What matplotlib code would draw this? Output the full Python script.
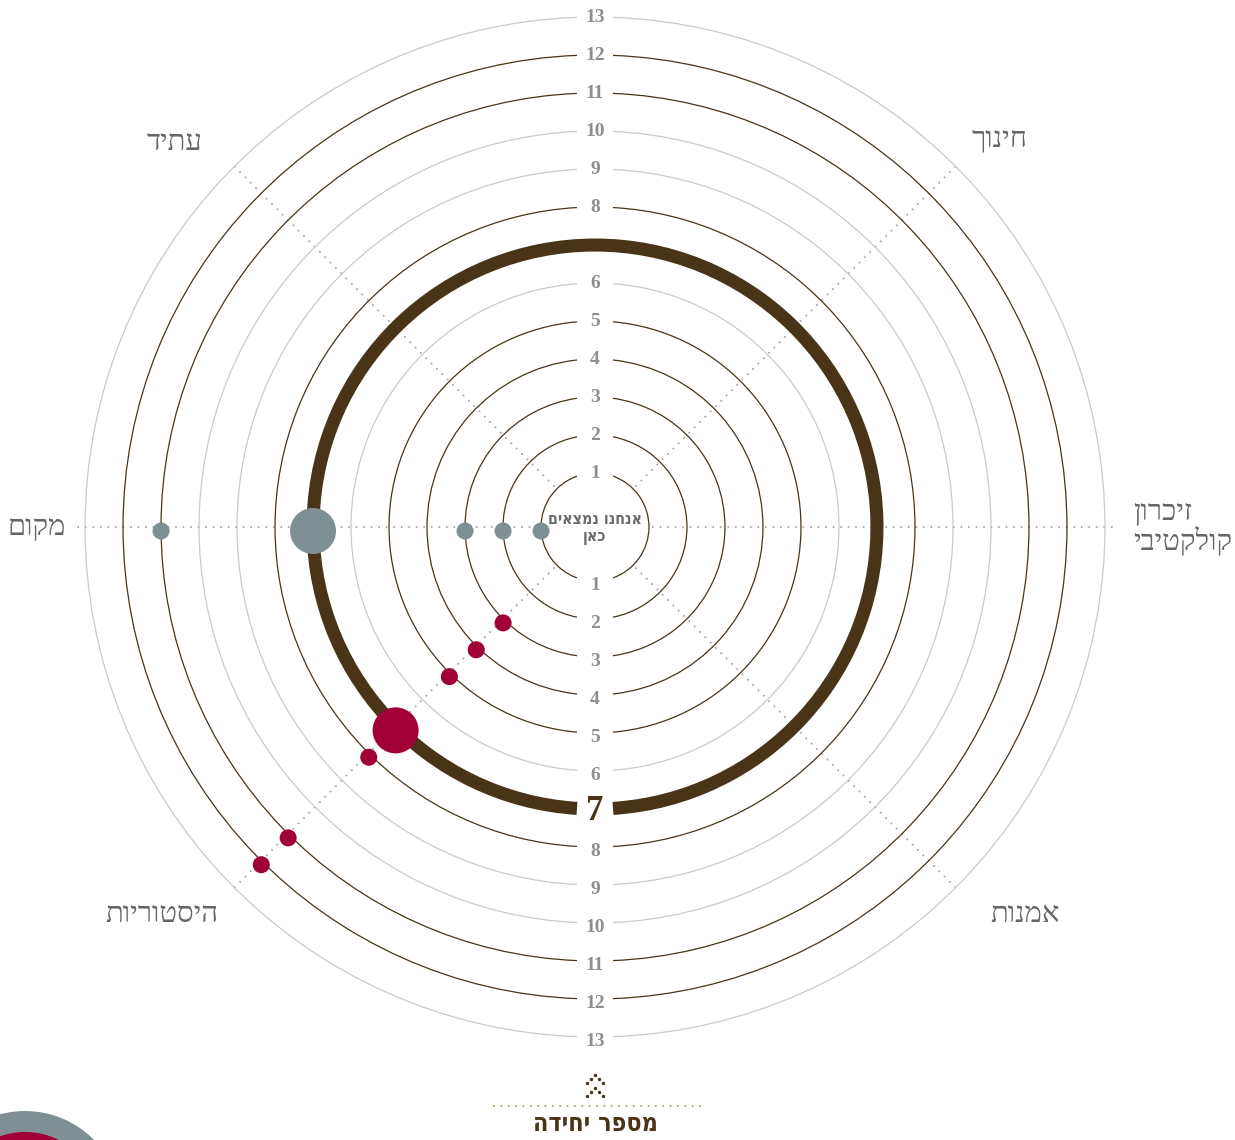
import numpy as np
import matplotlib.pyplot as plt
from matplotlib.patches import Arc, Circle
from matplotlib.transforms import ScaledTranslation

# rings (unit numbers) and the two data series
rings = list(range(1, 14))
current_unit = 7

categories = ['זיכרון\nקולקטיבי', 'חינוך', 'עתיד', 'מקום', 'היסטוריות', 'אמנות']
cat_angles = [0, 45, 135, 180, 225, 315]

place_units = [1, 2, 3, 7, 11]          # on the "מקום" axis
history_units = [3, 4, 5, 7, 8, 11, 12]  # on the "היסטוריות" axis

BROWN = '#4a3418'
LIGHT = '#cacaca'
NUMGRAY = '#8e8e8e'
TXTGRAY = '#666666'
DOTGRAY = '#7f9094'
RED = '#a00035'

PX = 38.0            # pixels per unit
CX, CY = 595, 527    # centre in pixels


def rad(n):
    return n + 0.42


def pxy(x, y):
    # pixel position -> data position
    return (x - CX) / PX, (CY - y) / PX


def heb(s):
    # matplotlib has no bidi: reverse each line for right-to-left
    return '\n'.join(line[::-1] for line in s.split('\n'))


fig = plt.figure(figsize=(12.35, 11.4), dpi=100)
ax = fig.add_axes([0, 0, 1, 1])
ax.set_xlim(-CX / PX, (1235 - CX) / PX)
ax.set_ylim((CY - 1140) / PX, CY / PX)
ax.axis('off')

used = set(place_units) | set(history_units)

# dotted spokes
for a in cat_angles:
    t = np.deg2rad(a)
    r0, r1 = 1.53, 13.6
    ax.plot([r0 * np.cos(t), r1 * np.cos(t)], [r0 * np.sin(t), r1 * np.sin(t)],
            color='#a8a8a8', lw=1.5, linestyle=(0, (0.01, 3.6)),
            dash_capstyle='round', zorder=1)

# rings, broken at top and bottom for the labels
low = ScaledTranslation(0, -5 / 100, fig.dpi_scale_trans)
for n in rings:
    r = rad(n)
    gap = np.rad2deg(np.arcsin(18 / PX / r))
    if n == current_unit:
        col, lw = BROWN, 9.4
        top_gap = 0
    else:
        col = BROWN if n in used else LIGHT
        lw = 0.9
        top_gap = gap
    ax.add_patch(Arc((0, 0), 2 * r, 2 * r, theta1=-90 + gap, theta2=90 - top_gap,
                     color=col, lw=lw, zorder=2))
    ax.add_patch(Arc((0, 0), 2 * r, 2 * r, theta1=90 + top_gap, theta2=270 - gap,
                     color=col, lw=lw, zorder=2))
    if n == current_unit:
        ax.text(0, -r, str(n), ha='center', va='center', fontsize=25,
                fontweight='bold', family='Liberation Serif', color=BROWN, zorder=3,
                transform=ax.transData + ScaledTranslation(0, -3 / 100, fig.dpi_scale_trans))
    else:
        ax.text(0, r, str(n), ha='center', va='center', fontsize=14,
                fontweight='bold', family='Liberation Serif', color=NUMGRAY, zorder=3)
        ax.text(0, -r, str(n), ha='center', va='center', fontsize=14,
                fontweight='bold', family='Liberation Serif', color=NUMGRAY, zorder=3,
                transform=ax.transData + low)

# data points (drawn a few pixels below the spoke, as in the original)
dot_shift = ax.transData + ScaledTranslation(0, -4 / 100, fig.dpi_scale_trans)
for units, ang, col in [(place_units, 180, DOTGRAY), (history_units, 225, RED)]:
    t = np.deg2rad(ang)
    r = np.array([rad(u) for u in units])
    sizes = [1097 if u == current_unit else 150 for u in units]
    ax.scatter(r * np.cos(t), r * np.sin(t), s=sizes, color=col,
               linewidths=0, zorder=4, transform=dot_shift)

# category labels
label_pos = {0: (1133, 528), 45: (1000, 140), 135: (175, 143),
             180: (37, 528), 225: (162, 915), 315: (1025, 915)}
for cat, a in zip(categories, cat_angles):
    x, y = pxy(*label_pos[a])
    ha = 'left' if a == 0 else 'center'
    ax.text(x, y, heb(cat), ha=ha, va='center', fontsize=21, color=TXTGRAY,
            family='Liberation Serif', linespacing=1.0, multialignment='left')

# centre caption
ax.text(0, -0.05, heb('אנחנו נמצאים\nכאן'), ha='center', va='center', fontsize=11.5,
        fontweight='bold', family='DejaVu Sans', stretch='condensed',
        color='#6b6b6b', linespacing=1.15, zorder=5)

# bottom: little dotted chevrons, dotted rule and title
chev = [(0, 0), (-4, 4), (4, 4), (-8, 8), (8, 8)]
for dy in (0, 12.5):
    xs, ys = zip(*[pxy(595 + cx, 1075 + cy + dy) for cx, cy in chev])
    ax.scatter(xs, ys, s=6, color=BROWN, linewidths=0)
x0, y0 = pxy(494, 1106)
x1, _ = pxy(700, 1106)
ax.plot([x0, x1], [y0, y0], color='#b3b06a', lw=1.6, linestyle=(0, (0.01, 3.3)),
        dash_capstyle='round')
x, y = pxy(595, 1124)
ax.text(x, y, heb('מספר יחידה'), ha='center', va='center', fontsize=18,
        fontweight='bold', family='DejaVu Sans', stretch='condensed', color=BROWN)

# partly visible legend disc in the lower left corner
ax.add_patch(Circle(pxy(25, 1208), 97 / PX, color='#7f9094', lw=0))
ax.add_patch(Circle(pxy(25, 1208), 76 / PX, color=RED, lw=0))

fig.savefig('out.png', dpi=100)
